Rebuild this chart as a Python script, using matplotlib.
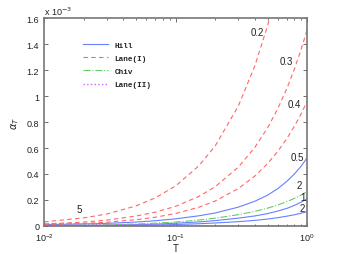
import numpy as np
import matplotlib
matplotlib.use('Agg')
import matplotlib.pyplot as plt

# T grid the curves were read at
T = [0.01, 0.02, 0.03, 0.05, 0.07, 0.1, 0.15, 0.2, 0.3, 0.4, 0.5, 0.6, 0.7, 0.8, 0.9, 1.0]

# Lane(I) curves (x 1e-3)
lane1_02 = [0.031, 0.062, 0.092, 0.154, 0.216, 0.308, 0.462, 0.616, 0.924, 1.232, 1.54, 1.85, 2.16, 2.46, 2.77, 3.08]
lane1_03 = [0.015, 0.030, 0.045, 0.076, 0.106, 0.151, 0.227, 0.302, 0.453, 0.604, 0.755, 0.906, 1.057, 1.208, 1.359, 1.51]
lane1_04 = [0.010, 0.019, 0.029, 0.048, 0.067, 0.096, 0.144, 0.192, 0.288, 0.384, 0.48, 0.576, 0.672, 0.768, 0.864, 0.96]

# Hill curves
hill_05 = [0.010, 0.015, 0.020, 0.030, 0.040, 0.055, 0.078, 0.100, 0.145, 0.190, 0.237, 0.288, 0.343, 0.400, 0.460, 0.525]
hill_1 = [0.002, 0.004, 0.006, 0.010, 0.014, 0.021, 0.031, 0.041, 0.060, 0.077, 0.095, 0.115, 0.135, 0.158, 0.183, 0.210]
hill_2 = [0.001, 0.002, 0.003, 0.005, 0.007, 0.011, 0.017, 0.023, 0.033, 0.043, 0.053, 0.064, 0.075, 0.086, 0.098, 0.110]

# Chiv curve
chiv_2 = [0.003, 0.006, 0.009, 0.015, 0.021, 0.030, 0.045, 0.060, 0.087, 0.112, 0.137, 0.162, 0.187, 0.212, 0.238, 0.265]

# Lane(II) curve
lane2_5 = [0.018, 0.016, 0.013, 0.008, 0.005, 0.003, 0.002, 0.001, 0.001, 0.001, 0.001, 0.001, 0.001, 0.001, 0.001, 0.001]

# curve labels: text, T, alpha (x 1e-3)
label_text = ['0.2', '0.3', '0.4', '0.5', '2', '1', '2', '5']
label_T = [0.417, 0.69, 0.80, 0.84, 0.87, 0.93, 0.92, 0.0185]
label_y = [1.49, 1.27, 0.94, 0.53, 0.315, 0.22, 0.14, 0.13]

blue = (0.4, 0.5, 1.0)
red = (1.0, 0.4, 0.4)
green = (0.4, 0.8, 0.4)
magenta = (0.8, 0.4, 1.0)
axcol = '#555555'

plt.rcParams['font.family'] = 'Liberation Sans'

fig = plt.figure(figsize=(3.39, 2.55), dpi=100)
ax = fig.add_axes([0.13, 0.11, 0.776, 0.815])

T = np.array(T)
s = 1e-3
lw = 0.8
h1, = ax.plot(T, np.array(hill_05) * s, '-', color=blue, lw=lw, label='Hill')
ax.plot(T, np.array(hill_1) * s, '-', color=blue, lw=lw)
ax.plot(T, np.array(hill_2) * s, '-', color=blue, lw=lw)
h2, = ax.plot(T, np.array(lane1_02) * s, '--', color=red, lw=lw, dashes=(4, 3), label='Lane(I)')
ax.plot(T, np.array(lane1_03) * s, '--', color=red, lw=lw, dashes=(4, 3))
ax.plot(T, np.array(lane1_04) * s, '--', color=red, lw=lw, dashes=(4, 3))
h3, = ax.plot(T, np.array(chiv_2) * s, '-.', color=green, lw=lw, label='Chiv')
h4, = ax.plot(T, np.array(lane2_5) * s, ':', color=magenta, lw=1.0, label='Lane(II)')

for txt, tx, ty in zip(label_text, label_T, label_y):
    ax.text(tx, ty * s, txt, fontsize=7, ha='center', va='center', color='#222222')

ax.set_xscale('log')
ax.set_xlim(0.01, 1)
ax.set_ylim(0, 1.6e-3)
ax.set_yticks(np.arange(0, 1.61e-3, 0.2e-3))
ax.set_yticklabels(['0', '0.2', '0.4', '0.6', '0.8', '1', '1.2', '1.4', '1.6'])
ax.tick_params(which='both', direction='in', top=True, right=True, labelsize=6.5,
               colors=axcol, labelcolor='#222222', width=0.6)
ax.tick_params(which='major', length=3)
ax.tick_params(which='minor', length=1.6)
for sp in ax.spines.values():
    sp.set_color('#777777')
    sp.set_linewidth(1.2)

ax.text(0.0, 1.005, r'x 10$^{-3}$', transform=ax.transAxes, fontsize=6.5,
        ha='left', va='bottom', color='#222222')
ax.set_xlabel('T', fontsize=7, labelpad=0, color='#222222')
ax.set_ylabel(r'$\alpha_T$', fontsize=7, labelpad=4, color='#222222')

leg = ax.legend(handles=[h1, h2, h3, h4], loc='upper left', bbox_to_anchor=(0.12, 0.92),
                frameon=False, handlelength=3.4, handletextpad=0.8, labelspacing=0.75,
                prop={'family': 'Liberation Mono', 'weight': 'bold', 'size': 5.5})
for t in leg.get_texts():
    t.set_color('#222222')

fig.savefig('out.png', dpi=100)
